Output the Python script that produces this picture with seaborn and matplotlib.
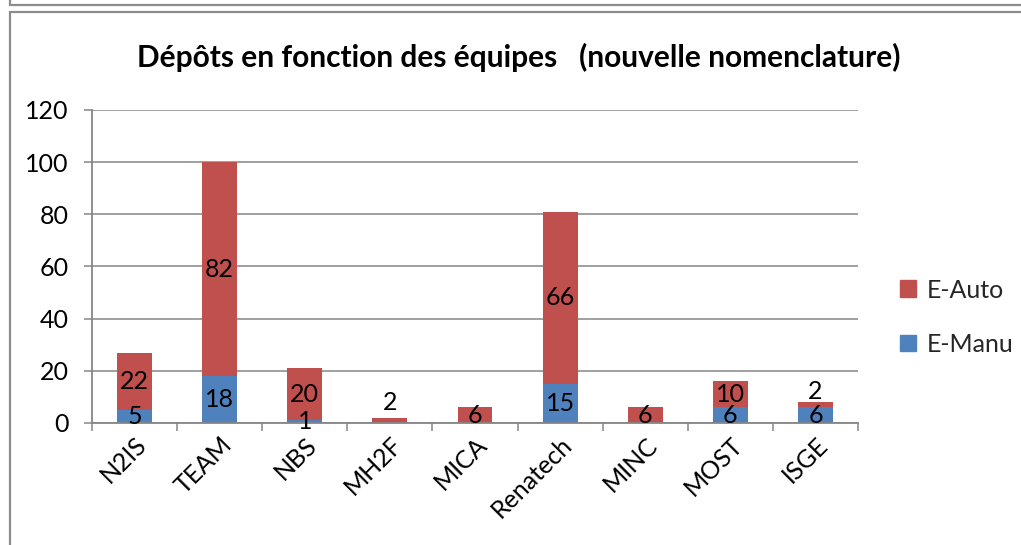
import numpy as np
import pandas as pd
import matplotlib
matplotlib.use("Agg")
import matplotlib.pyplot as plt
from matplotlib.lines import Line2D
from matplotlib.patches import Patch
import seaborn as sns

# Data
teams = ["N2IS", "TEAM", "NBS", "MH2F", "MICA", "Renatech", "MINC", "MOST", "ISGE"]
e_manu = [5, 18, 1, 0, 0, 15, 0, 6, 6]
e_auto = [22, 82, 20, 2, 6, 66, 6, 10, 2]
y_ticks = [0, 20, 40, 60, 80, 100, 120]

RED = "#C0504D"
BLUE = "#4F81BD"
GRID = "#868686"
FS = 18

sns.set_theme(style="white")
plt.rcParams["font.family"] = ["Lato", "DejaVu Sans"]

df = pd.DataFrame({"team": teams, "manu": e_manu, "auto": e_auto})
df["total"] = df["manu"] + df["auto"]

fig = plt.figure(figsize=(10.21, 5.45), dpi=100)
ax = fig.add_axes([0.0901, 0.2239, 0.7503, 0.5743])

# stacked bars: total (red) underneath, manual part (blue) on top of it
sns.barplot(data=df, x="team", y="total", color=RED, width=0.41,
            saturation=1, linewidth=0, ax=ax, zorder=3)
sns.barplot(data=df, x="team", y="manu", color=BLUE, width=0.41,
            saturation=1, linewidth=0, ax=ax, zorder=4)

ax.set_ylim(0, 120)
ax.set_xlim(-0.5, len(teams) - 0.5)
ax.set_yticks(y_ticks)
ax.set_xlabel("")
ax.set_ylabel("")
ax.yaxis.grid(True, color=GRID, linewidth=1.1, zorder=0)
ax.xaxis.grid(False)

for side in ["top", "right"]:
    ax.spines[side].set_visible(False)
for side in ["left", "bottom"]:
    ax.spines[side].set_color(GRID)
    ax.spines[side].set_linewidth(1.3)
    ax.spines[side].set_zorder(5)

ax.tick_params(axis="y", which="major", left=True, length=6, width=1.1,
               color=GRID, labelsize=FS, pad=11, labelcolor="black")
# category separators as minor ticks
ax.set_xticks(np.arange(-0.5, len(teams), 1.0), minor=True)
ax.tick_params(axis="x", which="minor", bottom=True, length=6, width=1.1,
               color=GRID)
ax.tick_params(axis="x", which="major", bottom=False, length=0,
               labelsize=FS, pad=7, labelcolor="black")
ax.set_xticks(range(len(teams)))
ax.set_xticklabels(teams, rotation=45, ha="right", rotation_mode="anchor")

# value labels
label_lift = {"MH2F": 7, "ISGE": 5}
for i, row in df.iterrows():
    if row["manu"] > 0:
        ax.text(i, row["manu"] / 2, str(row["manu"]), ha="center",
                va="center", fontsize=FS, color="black", zorder=6)
    if row["auto"] > 0:
        y = row["manu"] + row["auto"] / 2 + label_lift.get(row["team"], 0)
        ax.text(i, y, str(row["auto"]), ha="center", va="center",
                fontsize=FS, color="black", zorder=6)

# title
fig.text(0.508, 0.895, "Dépôts en fonction des équipes   (nouvelle nomenclature)",
         ha="center", va="center", fontsize=21.5, fontweight="bold", color="black")

# legend
handles = [Patch(facecolor=RED, edgecolor=RED, label="E-Auto"),
           Patch(facecolor=BLUE, edgecolor=BLUE, label="E-Manu")]
fig.legend(handles=handles, loc="center left", bbox_to_anchor=(0.881, 0.418),
           frameon=False, fontsize=FS, handlelength=0.65, handleheight=0.65,
           handletextpad=0.45, labelspacing=1.25, borderpad=0, borderaxespad=0)

# outer frames
H, W = 545.0, 1021.0
fc = "#8C8C8C"
fig.add_artist(Line2D([9.5 / W, 1.0], [1 - 5 / H, 1 - 5 / H], color=fc, lw=1.6,
                      transform=fig.transFigure))
fig.add_artist(Line2D([9.5 / W, 9.5 / W], [1.0, 1 - 5 / H], color=fc, lw=1.6,
                      transform=fig.transFigure))
fig.add_artist(Line2D([9.5 / W, 1.0], [1 - 11.5 / H, 1 - 11.5 / H], color=fc,
                      lw=1.6, transform=fig.transFigure))
fig.add_artist(Line2D([9.5 / W, 9.5 / W], [0.0, 1 - 11.5 / H], color=fc, lw=1.6,
                      transform=fig.transFigure))

fig.savefig("out.png", dpi=100)
